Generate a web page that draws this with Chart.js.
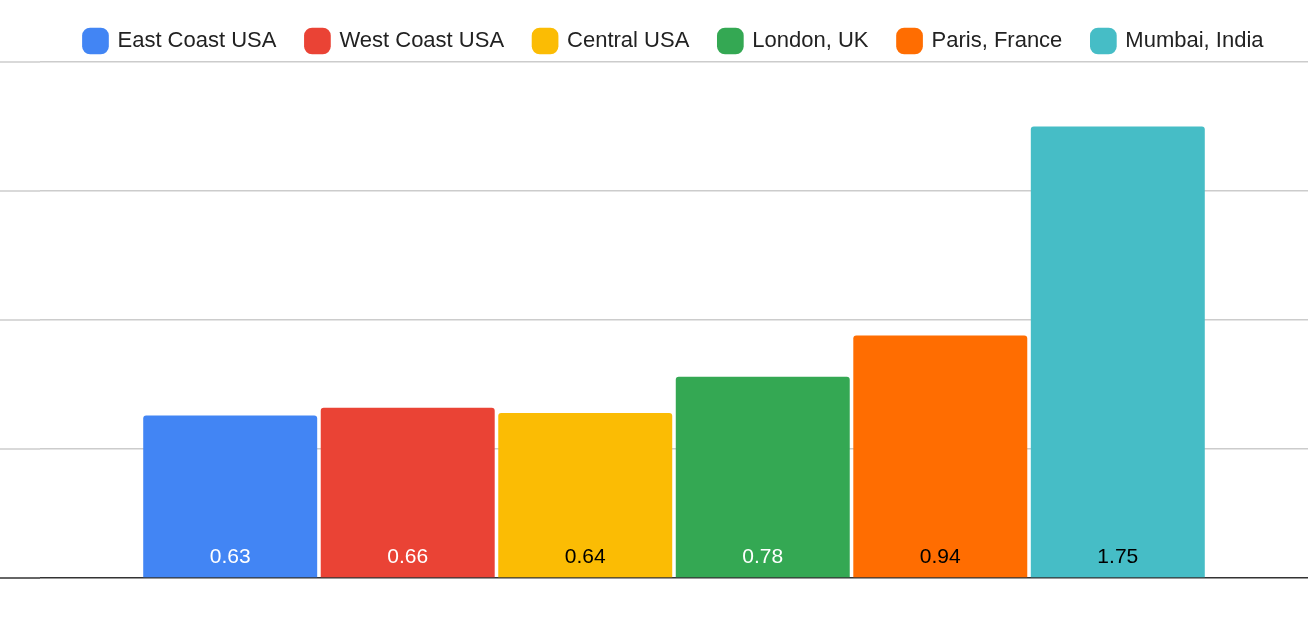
<!DOCTYPE html>
<html>
<head>
<meta charset="utf-8">
<script src="https://cdn.jsdelivr.net/npm/chart.js@4"></script>
<style>
  html, body { margin: 0; padding: 0; background: #fff; }
  #wrap { width: 1308px; height: 618px; }
</style>
</head>
<body>
<div id="wrap"><canvas id="c"></canvas></div>
<script>
const regions = ['East Coast USA', 'West Coast USA', 'Central USA', 'London, UK', 'Paris, France', 'Mumbai, India'];
const values = [0.63, 0.66, 0.64, 0.78, 0.94, 1.75];
const colors = ['#4285f4', '#ea4335', '#fbbc04', '#34a853', '#ff6d01', '#46bdc6'];
const labelColors = ['#fff', '#fff', '#000', '#fff', '#000', '#000'];

// value labels at the bottom of each bar
const bottomLabels = {
  id: 'bottomLabels',
  afterDatasetsDraw(chart) {
    const ctx = chart.ctx;
    ctx.save();
    ctx.font = '21px "Liberation Sans", Arial, sans-serif';
    ctx.textAlign = 'center';
    ctx.textBaseline = 'middle';
    chart.data.datasets.forEach((ds, i) => {
      const bar = chart.getDatasetMeta(i).data[0];
      ctx.fillStyle = labelColors[i];
      ctx.fillText(ds.data[0].toFixed(2), bar.x, chart.chartArea.bottom - 21);
    });
    ctx.restore();
  }
};

// carry the horizontal grid out into the left padding
const gridLeft = {
  id: 'gridLeft',
  beforeDatasetsDraw(chart) {
    const ctx = chart.ctx, y = chart.scales.y;
    ctx.save();
    ctx.lineWidth = 1.5;
    [0, 0.5, 1, 1.5, 2].forEach(v => {
      const py = y.getPixelForValue(v);
      ctx.strokeStyle = v === 0 ? '#333' : '#ccc';
      ctx.beginPath();
      ctx.moveTo(0, py);
      ctx.lineTo(chart.chartArea.left, py);
      ctx.stroke();
    });
    ctx.restore();
  }
};

new Chart(document.getElementById('c'), {
  type: 'bar',
  data: {
    labels: [''],
    datasets: regions.map((r, i) => ({
      label: r,
      data: [values[i]],
      backgroundColor: colors[i],
      borderRadius: { topLeft: 3, topRight: 3 },
      borderSkipped: 'bottom',
      barPercentage: 0.98,
      categoryPercentage: 0.84
    }))
  },
  options: {
    responsive: true,
    maintainAspectRatio: false,
    animation: false,
    layout: { padding: { top: 0, bottom: 40, left: 40, right: 0 } },
    plugins: {
      tooltip: { enabled: false },
      legend: {
        position: 'top',
        labels: {
          usePointStyle: true,
          pointStyle: 'rectRounded',
          boxWidth: 22,
          boxHeight: 22,
          padding: 30,
          color: '#222',
          font: { size: 22, family: '"Liberation Sans", Arial, sans-serif' }
        }
      }
    },
    scales: {
      x: { display: false },
      y: {
        min: 0, max: 2,
        ticks: { display: false, stepSize: 0.5 },
        border: { display: false },
        grid: {
          drawTicks: false,
          lineWidth: 1.5,
          color: ctx => ctx.tick.value === 0 ? '#333' : '#ccc'
        }
      }
    }
  },
  plugins: [bottomLabels, gridLeft]
});
</script>
</body>
</html>
